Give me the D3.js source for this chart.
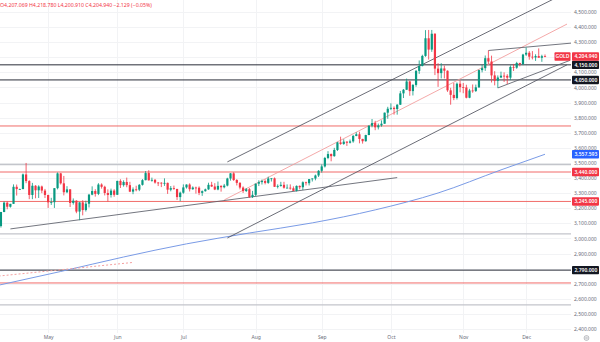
<!DOCTYPE html>
<html><head><meta charset="utf-8">
<script src="https://cdn.jsdelivr.net/npm/d3@7"></script>
<style>
body{margin:0;background:#fff;}
svg{display:block;font-family:"Noto Sans","DejaVu Sans",sans-serif;}
</style>
</head><body>
<svg id="chart" width="600" height="342"></svg>
<script>
// ---------- DATA ----------
const firstDay = "2025-04-09", lastDay = "2025-12-09";
const opens  = [2982,3082,3175,3237,3210,3229,3342,3327,3327,3424,3380,3288,3349,3319,3344,3317,
 3288,3239,3240,3333,3431,3365,3306,3325,3235,3250,3178,3239,3188,3230,3290,3314,3295,3357,3342,3301,3288,3317,
 3289,3381,3353,3374,3353,3310,3325,3323,3355,3386,3433,3385,3388,3370,3369,3368,3368,3323,3333,3328,3274,
 3303,3338,3357,3326,3337,3336,3302,3313,3325,3355,3344,3324,3348,3339,3350,3397,3431,3387,3368,3337,3314,3326,3275,
 3289,3363,3373,3380,3368,3397,3398,3342,3348,3355,3336,3336,3332,3315,3348,3339,3372,3366,3393,3397,3417,
 3448,3477,3533,3559,3545,3586,3636,3626,3641,3634,3643,3679,3690,3659,3644,3685,3747,3764,3736,3749,3760,3833,
 3859,3865,3857,3886,3961,3985,4040,3976,4017,4110,4142,4209,4326,4251,4356,4125,4095,4126,4111,3981,3951,3930,4025,
 4002,4000,3932,3980,3977,4001,4115,4128,4194,4172,4080,4044,4066,4078,4077,4065,4136,4131,4162,4155,
 4218,4230,4204,4199,4208,4197,4207.069];
const highs  = [3099,3176,3245,3245,3229,3358,3357,3330,3430,3500,3386,3368,3353,3352,3350,3328,
 3289,3269,3333,3437,3434,3414,3346,3326,3265,3253,3240,3253,3250,3295,3345,3326,3366,3365,3349,3325,3330,3326,
 3382,3392,3385,3403,3375,3338,3349,3360,3393,3446,3452,3403,3394,3374,3372,3398,3370,3347,3350,3328,3310,
 3358,3358,3365,3345,3343,3345,3318,3330,3369,3375,3366,3377,3352,3361,3402,3433,3438,3393,3373,3345,3334,3334,3315,
 3363,3385,3390,3391,3409,3400,3404,3358,3375,3375,3358,3358,3345,3351,3351,3378,3376,3394,3398,3423,3453,
 3490,3540,3578,3563,3600,3640,3674,3657,3644,3655,3686,3703,3707,3660,3687,3749,3791,3779,3761,3782,3834,3872,
 3895,3875,3889,3977,3990,4059,4045,4022,4116,4179,4217,4380,4381,4381,4359,4161,4161,4145,4113,3998,4030,4033,4046,
 4030,4018,3991,4020,4019,4118,4149,4212,4245,4211,4108,4080,4105,4100,4088,4146,4156,4170,4164,4223,
 4264,4241,4241,4220,4259,4217,4218.78];
const lows   = [2957,3072,3174,3193,3204,3228,3284,3323,3326,3366,3260,3260,3266,3268,3300,3268,
 3202,3222,3202,3325,3357,3285,3300,3208,3224,3167,3121,3153,3178,3205,3286,3277,3287,3330,3285,3245,3271,3276,
 3289,3334,3343,3339,3307,3293,3312,3313,3350,3385,3383,3376,3363,3347,3340,3348,3295,3312,3322,3255,3247,
 3296,3330,3311,3322,3297,3287,3282,3310,3322,3341,3320,3319,3310,3332,3345,3383,3381,3351,3325,3301,3307,3268,3268,
 3281,3347,3357,3358,3362,3377,3341,3331,3343,3330,3333,3323,3315,3311,3325,3321,3351,3351,3377,3385,3407,
 3436,3470,3525,3511,3541,3579,3620,3620,3613,3629,3634,3677,3630,3628,3641,3684,3736,3717,3722,3740,3759,3793,
 3850,3820,3820,3884,3930,3983,3945,3947,4005,4090,4140,4203,4185,4236,4082,4004,4060,4060,3971,3886,3916,3920,3968,
 3962,3928,3929,3965,3970,3997,4100,4110,4155,4033,4014,3997,4062,4037,4023,4049,4109,4124,4140,4148,
 4209,4184,4186,4176,4197,4170,4200.91];
const closes = [3082,3175,3237,3210,3229,3342,3327,3327,3424,3380,3288,3349,3319,3344,3317,3288,
 3239,3240,3333,3431,3365,3306,3325,3235,3250,3178,3239,3188,3230,3290,3314,3295,3357,3342,3301,3288,3317,3289,
 3381,3353,3374,3353,3310,3325,3323,3355,3386,3433,3385,3388,3370,3369,3368,3368,3323,3333,3328,3274,3303,
 3338,3357,3326,3337,3336,3302,3313,3325,3355,3344,3324,3348,3339,3350,3397,3431,3387,3368,3337,3314,3326,3275,3289,
 3363,3373,3380,3368,3397,3398,3342,3348,3355,3336,3336,3332,3315,3348,3339,3372,3366,3393,3397,3417,3448,
 3477,3533,3559,3545,3586,3636,3626,3641,3634,3643,3679,3690,3659,3644,3685,3747,3764,3736,3749,3760,3833,3859,
 3865,3857,3886,3961,3985,4040,3976,4017,4110,4142,4209,4326,4251,4356,4125,4095,4126,4111,3981,3951,3930,4025,4002,
 4000,3932,3980,3977,4001,4115,4128,4194,4172,4080,4044,4066,4078,4077,4065,4136,4131,4162,4155,4218,
 4230,4204,4199,4208,4197,4207.069,4204.94];

// 200-day moving average, read at bar indices
const maIdx = [0, 20, 40, 60, 80, 100, 120, 140, 160, 174];
const maVal = [2689, 2781, 2877, 2964, 3036, 3103, 3189, 3301, 3454, 3557.593];

// horizontal levels
const levelPrice = [4150, 4050, 2790, 3745, 3440, 3245, 2705, 3490, 3030, 2560];
const levelKind  = ["black","black","black","red","red","red","red","gray","gray","gray"];
const levelLabel = [true, true, true, false, true, true, false, false, false, false];

// trend lines [startIndex, startPrice, endIndex, endPrice]
const chanUpper = [73, 3507, 180, 4620];
const chanLower = [73, 3003, 181, 4150];
const chanMid   = [72, 3255, 181, 4420];
const supportLine = [4, 3063, 127, 3403];
const wedgeUpper = [156, 4245, 183, 4295];
const wedgeLower = [159, 3997, 182, 4180];
const dottedLine = [-1, 2748, 43, 2841];

const priceTicks = [4500,4400,4300,4100,4000,3900,3800,3700,3600,3500,3400,3300,3200,3100,3000,2900,2700,2600,2500,2400];
const gridPrices = [4500,4400,4300,4200,4100,4000,3900,3800,3700,3600,3500,3400,3300,3200,3100,3000,2900,2800,2700,2600,2500,2400];
const monthNames = ["Jan","Feb","Mar","Apr","May","Jun","Jul","Aug","Sep","Oct","Nov","Dec"];
const header = {O:"4,207.069", H:"4,218.780", L:"4,200.910", C:"4,204.940", chg:"−2.129 (−0.05%)"};
const lastPrice = 4204.94, maLast = 3557.593;

// ---------- CHART ----------
const W = 600, H = 342, plotR = 571, plotB = 333;
const svg = d3.select("#chart");
const parse = d3.timeParse("%Y-%m-%d");
const days = d3.timeDay.range(parse(firstDay), d3.timeDay.offset(parse(lastDay),1)).filter(d => d.getDay()%6 !== 0);
const n = days.length;
const bars = days.map((d,i)=>({d, i, o:opens[i], h:highs[i], l:lows[i], c:closes[i]}));

const x = d3.scaleLinear().domain([0, n-1]).range([-2.2, 545]);
const y = d3.scaleLinear().domain([2400, 4500]).range([329, 12]);

const defs = svg.append("defs");
defs.append("clipPath").attr("id","plot").append("rect").attr("x",0).attr("y",0).attr("width",plotR).attr("height",plotB);

// grid
const grid = svg.append("g").attr("clip-path","url(#plot)");
grid.selectAll("line.h").data(gridPrices).join("line")
  .attr("x1",0).attr("x2",plotR).attr("y1",d=>Math.round(y(d))+0.5).attr("y2",d=>Math.round(y(d))+0.5)
  .attr("stroke","#f2f3f5").attr("stroke-width",1);
const monthStarts = bars.filter((b,i)=> i>0 && b.d.getMonth() !== bars[i-1].d.getMonth());
grid.selectAll("line.v").data(monthStarts).join("line")
  .attr("x1",d=>Math.round(x(d.i))+0.5).attr("x2",d=>Math.round(x(d.i))+0.5).attr("y1",0).attr("y2",plotB)
  .attr("stroke","#f2f3f5").attr("stroke-width",1);

const plot = svg.append("g").attr("clip-path","url(#plot)");

// horizontal levels
const levelColor = {black:"#2a2e39", red:"#ef5350", gray:"#c3c5cb"};
const levelWidth = {black:1, red:1, gray:1.4};
plot.selectAll("line.lvl").data(levelPrice).join("line")
  .attr("x1",0).attr("x2",plotR)
  .attr("y1",d=>y(d)).attr("y2",d=>y(d))
  .attr("stroke",(d,i)=>levelColor[levelKind[i]])
  .attr("stroke-width",(d,i)=>levelWidth[levelKind[i]])
  .attr("opacity",(d,i)=>levelKind[i]==="red"?0.85:1);

// moving average
plot.append("path").datum(maIdx.map((k,j)=>[k,maVal[j]]))
  .attr("d", d3.line().x(d=>x(d[0])).y(d=>y(d[1])).curve(d3.curveMonotoneX))
  .attr("fill","none").attr("stroke","#7a9be6").attr("stroke-width",1);

// trend lines
function seg(a, color, w, dash){
  plot.append("line").attr("x1",x(a[0])).attr("y1",y(a[1])).attr("x2",x(a[2])).attr("y2",y(a[3]))
    .attr("stroke",color).attr("stroke-width",w).attr("stroke-dasharray",dash||null);
}
seg(chanUpper, "#50535e", 0.85);
seg(chanLower, "#50535e", 0.85);
seg(chanMid, "#f29a9a", 0.85);
seg(supportLine, "#5a5d68", 0.85);
seg(wedgeUpper, "#5a5d68", 0.85);
seg(wedgeLower, "#5a5d68", 0.85);
seg(dottedLine, "#f4a0a0", 1, "2,2");

// candles
const up = "#089981", dn = "#f23645";
const cg = plot.append("g");
cg.selectAll("line.w").data(bars).join("line")
  .attr("x1",d=>x(d.i)).attr("x2",d=>x(d.i)).attr("y1",d=>y(d.h)).attr("y2",d=>y(d.l))
  .attr("stroke",d=>d.c>=d.o?up:dn).attr("stroke-width",0.8);
cg.selectAll("rect").data(bars).join("rect")
  .attr("x",d=>x(d.i)-1.1).attr("width",2.2)
  .attr("y",d=>y(Math.max(d.o,d.c))).attr("height",d=>Math.max(0.8, Math.abs(y(d.o)-y(d.c))))
  .attr("fill",d=>d.c>=d.o?up:dn);

// right axis
const ax = svg.append("g").attr("transform",`translate(${plotR},0)`)
  .call(d3.axisRight(y).tickValues(priceTicks).tickSize(0).tickPadding(3)
    .tickFormat(d=>d3.format(",.3f")(d)));
ax.select(".domain").remove();
ax.selectAll("text").attr("font-size",5).attr("fill","#6a6d78").attr("font-family","'Noto Sans',sans-serif");

// level labels
function priceBox(p, bg, txt){
  const g = svg.append("g").attr("transform",`translate(${plotR+1},${y(p)})`);
  g.append("rect").attr("x",0).attr("y",-4.2).attr("width",27).attr("height",8.4).attr("rx",0.8).attr("fill",bg);
  g.append("text").attr("x",2.5).attr("y",0).attr("dy","0.35em").attr("font-size",5).attr("font-weight",600)
    .attr("fill","#fff").text(txt);
}
levelPrice.forEach((p,i)=>{
  if(!levelLabel[i]) return;
  priceBox(p, levelKind[i]==="red" ? "#f23645" : "#131722", d3.format(",.3f")(p));
});
priceBox(maLast, "#2962ff", d3.format(",.3f")(maLast));
priceBox(lastPrice, "#f23645", d3.format(",.3f")(lastPrice));
// GOLD tag
const gt = svg.append("g").attr("transform",`translate(${plotR-16.5},${y(lastPrice)})`);
gt.append("rect").attr("x",0).attr("y",-4.2).attr("width",16).attr("height",8.4).attr("rx",0.8).attr("fill","#f23645");
gt.append("text").attr("x",8).attr("y",0).attr("dy","0.35em").attr("text-anchor","middle")
  .attr("font-size",5).attr("font-weight",600).attr("fill","#fff").text("GOLD");

// bottom axis
const bx = svg.append("g").attr("transform",`translate(0,${plotB})`)
  .call(d3.axisBottom(x).tickValues(monthStarts.map(d=>d.i)).tickSize(0).tickPadding(2)
    .tickFormat(i=>monthNames[bars[i].d.getMonth()]));
bx.select(".domain").remove();
bx.selectAll("text").attr("font-size",5).attr("fill","#6a6d78").attr("font-family","'Noto Sans',sans-serif");

// settings icon
svg.append("circle").attr("cx",586.5).attr("cy",338).attr("r",2.4).attr("fill","none").attr("stroke","#8a8d96").attr("stroke-width",0.6);
svg.append("circle").attr("cx",586.5).attr("cy",338).attr("r",0.9).attr("fill","none").attr("stroke","#8a8d96").attr("stroke-width",0.5);

// header
const ht = svg.append("text").attr("x",0).attr("y",7).attr("font-size",5.2).attr("fill","#f23645");
["O","H","L","C"].forEach(k=>{
  ht.append("tspan").attr("fill","#f23645").text(k);
  ht.append("tspan").text(header[k]+" ");
});
ht.append("tspan").text(header.chg);
</script>
</body></html>
